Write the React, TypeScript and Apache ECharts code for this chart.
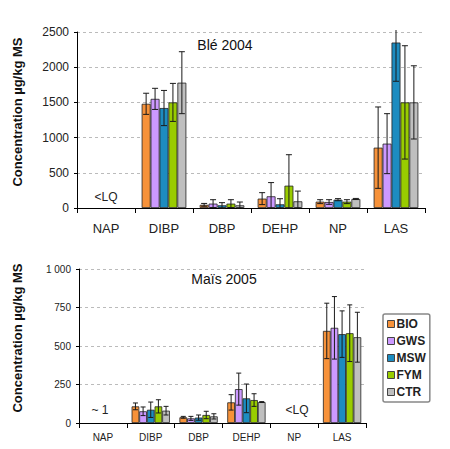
import React, { useEffect, useRef } from "react";
import * as echarts from "echarts";

const categories = ["NAP", "DIBP", "DBP", "DEHP", "NP", "LAS"];
const treatments = ["BIO", "GWS", "MSW", "FYM", "CTR"];
const colors = ["#F7923A", "#CC99FF", "#1D8CC0", "#99CC00", "#BFBFBF"];

// Blé 2004 (µg/kg MS)
const ble2004 = [
  [null, 1480, 45, 133, 90, 857],
  [null, 1550, 62, 166, 85, 914],
  [null, 1420, 38, 52, 118, 2350],
  [null, 1500, 62, 317, 90, 1500],
  [null, 1780, 38, 95, 128, 1500],
];
const ble2004Err = [
  [null, 150, 20, 85, 28, 578],
  [null, 150, 56, 195, 33, 426],
  [null, 250, 38, 80, 15, 550],
  [null, 270, 56, 440, 28, 805],
  [null, 440, 47, 145, 8, 520],
];

// Maïs 2005 (µg/kg MS)
const mais2005 = [
  [null, 108, 37, 134, null, 598],
  [null, 76, 30, 220, null, 618],
  [null, 86, 35, 160, null, 577],
  [null, 108, 52, 149, null, 583],
  [null, 80, 43, 136, null, 557],
];
const mais2005Err = [
  [null, 22, 6, 50, null, 180],
  [null, 28, 13, 104, null, 203],
  [null, 50, 17, 93, null, 151],
  [null, 43, 24, 41, null, 184],
  [null, 28, 17, 3, null, 162],
];

const topTicks = { min: 0, max: 2500, interval: 500 };
const botTicks = { min: 0, max: 1000, interval: 250 };

const topGap = 0.23;
const botGap = 0.2;

function errorSeries(gridIdx: number, vals: any[][], errs: any[][], gap: number, cap: number) {
  const data: any[] = [];
  vals.forEach((row, t) => {
    row.forEach((v, c) => {
      if (v != null && errs[t][c] != null) data.push([c, v, errs[t][c], t]);
    });
  });
  return {
    type: "custom",
    xAxisIndex: gridIdx,
    yAxisIndex: gridIdx,
    z: 5,
    silent: true,
    clip: false,
    data,
    renderItem: (params: any, api: any) => {
      const c = api.value(0);
      const v = api.value(1);
      const e = api.value(2);
      const t = api.value(3);
      const band = api.size([1, 0])[0];
      const bw = (band * (1 - gap)) / treatments.length;
      const center = api.coord([c, v]);
      const x = center[0] + (t - (treatments.length - 1) / 2) * bw;
      const topLimit = params.coordSys.y - 2;
      let yHi = api.coord([c, v + e])[1];
      let clipped = false;
      if (yHi < topLimit) {
        yHi = topLimit;
        clipped = true;
      }
      const yLo = api.coord([c, Math.max(v - e, 0)])[1];
      const style = { stroke: "#1a1a1a", lineWidth: 1 };
      const children: any[] = [
        { type: "line", shape: { x1: x, y1: yHi, x2: x, y2: yLo }, style },
        { type: "line", shape: { x1: x - cap, y1: yLo, x2: x + cap, y2: yLo }, style },
      ];
      if (!clipped) children.push({ type: "line", shape: { x1: x - cap, y1: yHi, x2: x + cap, y2: yHi }, style });
      return { type: "group", children };
    },
  };
}

export default function App() {
  const ref = useRef<HTMLDivElement>(null);
  useEffect(() => {
    if (!ref.current) return;
    const chart = echarts.init(ref.current, undefined, { renderer: "svg" });
    const barSeries: any[] = [];
    treatments.forEach((name, t) => {
      barSeries.push({
        name,
        type: "bar",
        xAxisIndex: 0,
        yAxisIndex: 0,
        data: ble2004[t],
        barGap: "0%",
        barCategoryGap: topGap * 100 + "%",
        itemStyle: { color: colors[t], borderColor: "#222", borderWidth: 0.8 },
      });
    });
    treatments.forEach((name, t) => {
      barSeries.push({
        name,
        type: "bar",
        xAxisIndex: 1,
        yAxisIndex: 1,
        data: mais2005[t],
        barGap: "0%",
        barCategoryGap: botGap * 100 + "%",
        itemStyle: { color: colors[t], borderColor: "#222", borderWidth: 0.8 },
      });
    });

    const xAxisBase = (fontSize: number, margin: number) => ({
      type: "category",
      data: categories,
      axisLine: { lineStyle: { color: "#000", width: 1 } },
      axisTick: { show: true, length: 5, lineStyle: { color: "#000" } },
      axisLabel: { fontSize, color: "#222", fontFamily: "Arial", margin },
      splitLine: { show: false },
    });
    const yAxisBase = (ticks: any, fontSize: number, fmt: (v: number) => string) => ({
      type: "value",
      ...ticks,
      axisLine: { show: true, lineStyle: { color: "#000", width: 1 } },
      axisTick: { show: true, length: 3, lineStyle: { color: "#000" } },
      axisLabel: { fontSize, color: "#222", fontFamily: "Arial", margin: 8, formatter: fmt },
      splitLine: { show: true, lineStyle: { color: "#bbb", type: [3, 3], width: 1 } },
    });

    const option: any = {
      animation: false,
      backgroundColor: "#fff",
      grid: [
        { left: 77, top: 32, width: 348, height: 176 },
        { left: 79, top: 269, width: 287, height: 154 },
      ],
      xAxis: [
        { ...xAxisBase(13, 14), gridIndex: 0 },
        { ...xAxisBase(10, 9), gridIndex: 1 },
      ],
      yAxis: [
        { ...yAxisBase(topTicks, 12, (v: number) => String(v)), gridIndex: 0 },
        {
          ...yAxisBase(botTicks, 10, (v: number) => (v >= 1000 ? "1 000" : String(v))),
          gridIndex: 1,
        },
      ],
      legend: {
        data: treatments,
        orient: "vertical",
        left: 383,
        top: 314,
        icon: "rect",
        itemWidth: 7,
        itemHeight: 7,
        itemGap: 3,
        padding: [3, 4, 3, 4],
        borderColor: "#888",
        borderWidth: 1.5,
        borderRadius: 2,
        backgroundColor: "#fff",
        textStyle: { fontSize: 12, fontWeight: "bold", color: "#222", fontFamily: "Arial", padding: [0, 0, 0, -3], lineHeight: 14 },
        itemStyle: { borderColor: "#444", borderWidth: 1 },
        selectedMode: false,
      },
      graphic: [
        { type: "text", x: 17, y: 112, rotation: Math.PI / 2, style: { text: "Concentration µg/kg MS", font: "bold 13px Arial", fill: "#111", textAlign: "center", textVerticalAlign: "middle" } },
        { type: "text", x: 17, y: 338, rotation: Math.PI / 2, style: { text: "Concentration µg/kg MS", font: "bold 13px Arial", fill: "#111", textAlign: "center", textVerticalAlign: "middle" } },
        { type: "text", x: 225, y: 45, style: { text: "Blé 2004", font: "14px Arial", fill: "#111", textAlign: "center", textVerticalAlign: "middle" } },
        { type: "text", x: 224, y: 279, style: { text: "Maïs 2005", font: "14px Arial", fill: "#111", textAlign: "center", textVerticalAlign: "middle" } },
        { type: "text", x: 106, y: 197, style: { text: "<LQ", font: "12px Arial", fill: "#222", textAlign: "center", textVerticalAlign: "middle" } },
        { type: "text", x: 100, y: 410, style: { text: "~ 1", font: "12px Arial", fill: "#222", textAlign: "center", textVerticalAlign: "middle" } },
        { type: "text", x: 297, y: 410, style: { text: "<LQ", font: "12px Arial", fill: "#222", textAlign: "center", textVerticalAlign: "middle" } },
      ],
      series: [
        ...barSeries,
        errorSeries(0, ble2004, ble2004Err, topGap, 3),
        errorSeries(1, mais2005, mais2005Err, botGap, 2.5),
      ],
    };
    chart.setOption(option);
    return () => chart.dispose();
  }, []);
  return <div ref={ref} style={{ width: 450, height: 449, margin: -8 }} />;
}
